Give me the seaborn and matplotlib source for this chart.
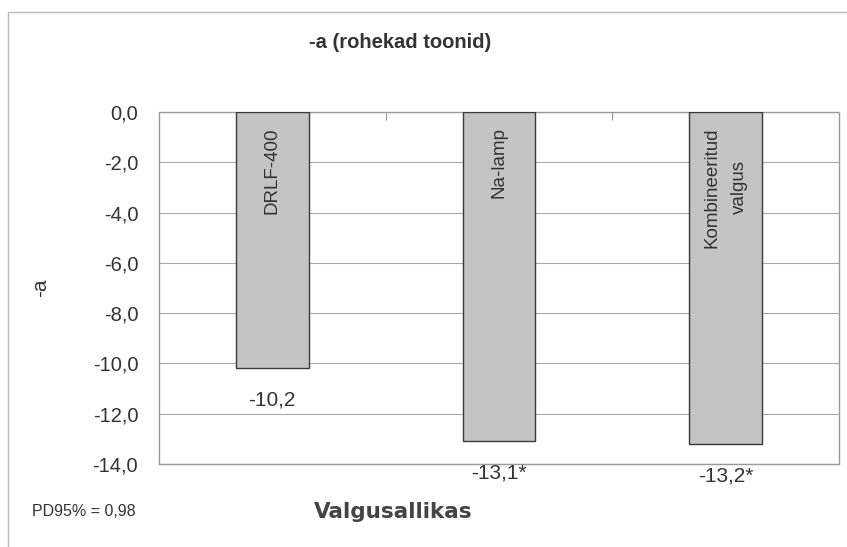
import matplotlib
matplotlib.use("Agg")
import matplotlib.pyplot as plt
from matplotlib.patches import Rectangle
from matplotlib.ticker import FuncFormatter
import pandas as pd
import seaborn as sns

# data
sources = ["DRLF-400", "Na-lamp", "Kombineeritud\nvalgus"]
values = [-10.2, -13.1, -13.2]
value_labels = ["-10,2", "-13,1*", "-13,2*"]
y_ticks = [0, -2, -4, -6, -8, -10, -12, -14]

sns.set_theme(style="white")
plt.rcParams['font.family'] = ['Liberation Sans', 'DejaVu Sans']

df = pd.DataFrame({"source": sources, "value": values})
txt = "#333333"

fig = plt.figure(figsize=(8.47, 5.47), dpi=100)
ax = fig.add_axes([0.1877, 0.1517, 0.8028, 0.6435])

sns.barplot(data=df, x="source", y="value", color="#c4c4c4", width=0.32,
            saturation=1, edgecolor="#3a3a3a", linewidth=1.0, ax=ax, zorder=3)

ax.set_ylim(-14, 0)
ax.set_xlim(-0.5, 2.5)
ax.set_yticks(y_ticks)
ax.yaxis.set_major_formatter(FuncFormatter(lambda v, p: f"{v:.1f}".replace(".", ",")))
ax.tick_params(axis="y", labelsize=14.5, colors=txt, length=0, pad=15)
ax.grid(axis="y", color="#a8a8a8", linewidth=0.8, zorder=0)

# category axis sits at 0 (top)
ax.xaxis.tick_top()
ax.set_xticks([0.5, 1.5])
ax.set_xticklabels([])
ax.tick_params(axis="x", direction="in", length=6, color="#999999", width=0.8)
ax.set_xlabel("")
ax.set_ylabel("-a", fontsize=15, color=txt)
ax.yaxis.set_label_coords(-0.16, 0.5)

for s in ax.spines.values():
    s.set_color("#9a9a9a")
    s.set_linestyle((0, (1, 1)))
    s.set_linewidth(1.0)

for i, (name, v, lab) in enumerate(zip(sources, values, value_labels)):
    ax.text(i, -0.6, name, rotation=90, ha="center", va="top", fontsize=13.5,
            color=txt, multialignment="center", linespacing=1.8, zorder=5)
    ax.annotate(lab, (i, v), xytext=(0, -16), textcoords="offset points",
                ha="center", va="top", fontsize=15, color=txt,
                annotation_clip=False)

fig.text(0.472, 0.923, "-a (rohekad toonid)", ha="center", va="center",
         fontsize=14.5, fontweight="bold", color=txt)
fig.text(0.464, 0.064, "Valgusallikas", ha="center", va="center",
         fontsize=15.5, fontweight="bold", color="#444444", family="DejaVu Sans")
fig.text(0.038, 0.064, "PD95% = 0,98", ha="left", va="center",
         fontsize=11.5, color=txt)

# outer chart frame
fig.patches.append(Rectangle((0.009, -0.01), 1.0, 0.988, transform=fig.transFigure,
                             fill=False, edgecolor="#bbbbbb", linewidth=1.0))

fig.savefig("out.png", dpi=100)
